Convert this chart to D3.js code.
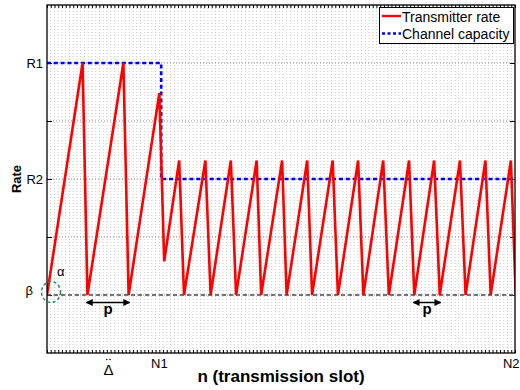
<!DOCTYPE html>
<html>
<head>
<meta charset="utf-8">
<script src="https://cdn.jsdelivr.net/npm/d3@7"></script>
<style>
  html, body { margin: 0; padding: 0; background: #fff; }
  svg { display: block; font-family: "Liberation Sans", Arial, Helvetica, sans-serif; }
</style>
</head>
<body>
<svg id="chart" width="520" height="390"></svg>
<script>
// Slot axis: 0 .. N2, one minor tick per slot
const slotCount = 125;
const xTickLabels = [
  { v: 16.4, label: "\u0394", accent: true },
  { v: 30, label: "N1", accent: false },
  { v: 125, label: "N2", accent: false }
];
const yTickValues = [1, 2, 3, 4, 5];
const yTickLabels = [
  { v: 1, label: "\u03b2" },
  { v: 3, label: "R2" },
  { v: 5, label: "R1" }
];

// Transmitter rate: vertices of the sawtooth (slot, rate)
const rateSlots = [0, 9.5, 10.8, 20.4, 21.8, 30.0, 31.3, 35.3, 36.6, 42.3, 43.7, 49.1, 50.5,
  56.0, 57.2, 62.8, 64.0, 69.5, 70.8, 76.3, 77.7, 83.1, 84.5, 89.8, 91.3, 96.7, 98.1,
  103.4, 104.9, 110.3, 111.8, 117.1, 118.5, 123.9, 125.2];
const rateValues = [1, 5, 1, 5, 1, 4.48, 1.58, 3.32, 1, 3.32, 1, 3.32, 1,
  3.32, 1, 3.32, 1, 3.32, 1, 3.32, 1, 3.32, 1, 3.32, 1, 3.32, 1,
  3.32, 1, 3.32, 1, 3.32, 1, 3.32, 1];

// Channel capacity: step from R1 down to R2
const capacitySlots = [0, 30.5, 30.5, 125];
const capacityValues = [5, 5, 3, 3];

// Floor level beta and the period markers p (trough to trough)
const betaLevel = 1;
const periodMarks = [[10.8, 21.8], [98.1, 104.9]];

const seriesNames = ["Transmitter rate", "Channel capacity"];

const svg = d3.select("#chart");
const plot = { left: 47, right: 515, top: 5, bottom: 353 };

const x = d3.scaleLinear().domain([0, slotCount]).range([plot.left, plot.right]);
const y = d3.scaleLinear().domain([0, 6]).range([plot.bottom, plot.top]);

const defs = svg.append("defs");
defs.append("clipPath").attr("id", "plotClip")
  .append("rect")
  .attr("x", plot.left).attr("y", plot.top)
  .attr("width", plot.right - plot.left).attr("height", plot.bottom - plot.top);

defs.append("marker")
  .attr("id", "arrowHead")
  .attr("viewBox", "0 0 10 10").attr("refX", 9).attr("refY", 5)
  .attr("markerWidth", 7).attr("markerHeight", 7)
  .attr("markerUnits", "userSpaceOnUse")
  .attr("orient", "auto-start-reverse")
  .append("path").attr("d", "M0,0 L10,5 L0,10 Z").attr("fill", "#000");

const slotTicks = d3.range(0, slotCount + 1);

// Minor vertical grid (dotted)
svg.append("g").selectAll("line").data(slotTicks.slice(1, -1)).join("line")
  .attr("x1", d => x(d)).attr("x2", d => x(d))
  .attr("y1", plot.top).attr("y2", plot.bottom)
  .attr("stroke", "#bdbdbd").attr("stroke-width", 0.8)
  .attr("stroke-dasharray", "1,2");

// Major horizontal grid (dotted)
svg.append("g").selectAll("line").data(yTickValues).join("line")
  .attr("x1", plot.left).attr("x2", plot.right)
  .attr("y1", d => y(d)).attr("y2", d => y(d))
  .attr("stroke", "#8c8c8c").attr("stroke-width", 1)
  .attr("stroke-dasharray", "1,2");

// Axes: ticks drawn inward on all four sides
const xBottom = d3.axisBottom(x).tickValues(slotTicks).tickSizeInner(-3).tickSizeOuter(0).tickFormat("");
const xTop = d3.axisTop(x).tickValues(slotTicks).tickSizeInner(-3).tickSizeOuter(0).tickFormat("");
const yLeft = d3.axisLeft(y).tickValues(yTickValues).tickSizeInner(-5).tickSizeOuter(0).tickFormat("");
const yRight = d3.axisRight(y).tickValues(yTickValues).tickSizeInner(-5).tickSizeOuter(0).tickFormat("");

function styleAxis(g) {
  g.selectAll("path").remove();
  g.selectAll("line").attr("stroke", "#000").attr("stroke-width", 1);
}
svg.append("g").attr("transform", `translate(0,${plot.bottom})`).call(xBottom).call(styleAxis);
svg.append("g").attr("transform", `translate(0,${plot.top})`).call(xTop).call(styleAxis);
svg.append("g").attr("transform", `translate(${plot.left},0)`).call(yLeft).call(styleAxis);
svg.append("g").attr("transform", `translate(${plot.right},0)`).call(yRight).call(styleAxis);

// Beta floor (dashed)
svg.append("line")
  .attr("x1", x(0)).attr("x2", x(slotCount))
  .attr("y1", y(betaLevel)).attr("y2", y(betaLevel))
  .attr("stroke", "#4d4d4d").attr("stroke-width", 1.5)
  .attr("stroke-dasharray", "4,3");

const line = d3.line().x(d => x(d[0])).y(d => y(d[1]));

// Channel capacity (blue dashed)
svg.append("path")
  .datum(d3.zip(capacitySlots, capacityValues))
  .attr("d", line)
  .attr("fill", "none").attr("stroke", "#0000ff").attr("stroke-width", 2.6)
  .attr("stroke-dasharray", "4,2.8")
  .attr("clip-path", "url(#plotClip)");

// Transmitter rate (red sawtooth)
svg.append("path")
  .datum(d3.zip(rateSlots, rateValues))
  .attr("d", line)
  .attr("fill", "none").attr("stroke", "#ff0000").attr("stroke-width", 2.6)
  .attr("stroke-linejoin", "miter")
  .attr("clip-path", "url(#plotClip)");

// Plot frame
svg.append("rect")
  .attr("x", plot.left).attr("y", plot.top)
  .attr("width", plot.right - plot.left).attr("height", plot.bottom - plot.top)
  .attr("fill", "none").attr("stroke", "#000").attr("stroke-width", 1.3);

// Period markers
const markerY = 302.5;
periodMarks.forEach(([a, b]) => {
  svg.append("line")
    .attr("x1", x(a) - 1).attr("x2", x(b) + 1)
    .attr("y1", markerY).attr("y2", markerY)
    .attr("stroke", "#000").attr("stroke-width", 1.5)
    .attr("marker-start", "url(#arrowHead)")
    .attr("marker-end", "url(#arrowHead)");
  svg.append("text")
    .attr("x", (x(a) + x(b)) / 2).attr("y", markerY + 11)
    .attr("text-anchor", "middle")
    .attr("font-size", 15).attr("font-weight", "bold")
    .text("p");
});

// Start-point annotation (alpha / beta)
svg.append("ellipse")
  .attr("cx", x(0) + 4).attr("cy", y(betaLevel) - 3)
  .attr("rx", 9.5).attr("ry", 10.5)
  .attr("fill", "none").attr("stroke", "#2e8b57").attr("stroke-width", 1.5)
  .attr("stroke-dasharray", "3,2.5");
svg.append("text")
  .attr("x", x(0) + 10).attr("y", y(betaLevel) - 19)
  .attr("font-size", 13).text("\u03b1");

// Y tick labels
svg.append("g").selectAll("text").data(yTickLabels).join("text")
  .attr("x", d => plot.left - (d.label === "\u03b2" ? 14 : 4))
  .attr("y", d => y(d.v) + (d.label === "\u03b2" ? 0 : 5))
  .attr("text-anchor", "end").attr("font-size", 13)
  .text(d => d.label);

// X tick labels (the Delta label carries a double-dot accent above it)
const xLabels = svg.append("g").selectAll("g").data(xTickLabels).join("g");
xLabels.append("text")
  .attr("x", d => d.v === slotCount ? x(d.v) + 4.5 : x(d.v))
  .attr("y", d => d.accent ? 375 : 368)
  .attr("text-anchor", d => d.v === slotCount ? "end" : "middle")
  .attr("font-size", d => d.accent ? 15 : 13)
  .text(d => d.label);
xLabels.filter(d => d.accent).each(function (d) {
  const g = d3.select(this);
  [-1.6, 1.6].forEach(dx => {
    g.append("circle")
      .attr("cx", x(d.v) + dx).attr("cy", 359.5)
      .attr("r", 0.8).attr("fill", "#000");
  });
});

// Axis titles
svg.append("text")
  .attr("x", (plot.left + plot.right) / 2).attr("y", 382)
  .attr("text-anchor", "middle").attr("font-size", 17).attr("font-weight", "bold")
  .text("n (transmission slot)");
svg.append("text")
  .attr("transform", `translate(21,${(plot.top + plot.bottom) / 2}) rotate(-90)`)
  .attr("text-anchor", "middle").attr("font-size", 13).attr("font-weight", "bold")
  .text("Rate");

// Legend
const legend = svg.append("g");
legend.append("rect")
  .attr("x", 379.5).attr("y", 7.5).attr("width", 134).attr("height", 36)
  .attr("fill", "#fff").attr("stroke", "#000").attr("stroke-width", 1);
const legendStyles = [
  { color: "#ff0000", dash: null },
  { color: "#0000ff", dash: "3,2.5" }
];
seriesNames.forEach((name, i) => {
  const ly = 16 + i * 17.5;
  legend.append("line")
    .attr("x1", 382).attr("x2", 401).attr("y1", ly).attr("y2", ly)
    .attr("stroke", legendStyles[i].color).attr("stroke-width", 2.4)
    .attr("stroke-dasharray", legendStyles[i].dash);
  legend.append("text")
    .attr("x", 402).attr("y", ly + 5.5)
    .attr("font-size", 14).text(name);
});
</script>
</body>
</html>
